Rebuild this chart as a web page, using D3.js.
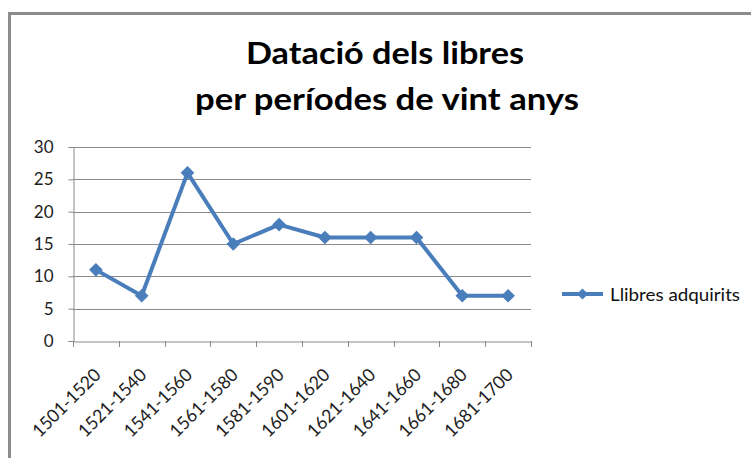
<!DOCTYPE html>
<html><head><meta charset="utf-8">
<script src="https://cdn.jsdelivr.net/npm/d3@7"></script>
<style>html,body{margin:0;padding:0;background:#fff;}svg{display:block;font-family:Lato,"Open Sans",sans-serif;}</style>
</head><body>
<svg id="c" width="751" height="458"></svg>
<script>
const categories = ["1501-1520","1521-1540","1541-1560","1561-1580","1581-1590","1601-1620","1621-1640","1641-1660","1661-1680","1681-1700"];
const values = [11, 7, 26, 15, 18, 16, 16, 16, 7, 7];
const yTicks = [0, 5, 10, 15, 20, 25, 30];
const seriesName = "Llibres adquirits";
const titleLines = ["Datació dels libres", "per períodes de vint anys"];

const svg = d3.select("#c");
const color = "#4a7ebb";
// outer frame
svg.append("rect").attr("x", 9.5).attr("y", 13.5).attr("width", 800).attr("height", 500)
  .attr("fill", "none").attr("stroke", "#8c8c8c").attr("stroke-width", 3);

const m = {left: 73, right: 531, top: 147, bottom: 341};
const x = d3.scaleBand().domain(categories).range([m.left, m.right]);
const y = d3.scaleLinear().domain([0, 30]).range([m.bottom, m.top]);

// title
const titleW = [278, 384];
svg.append("g").selectAll("text").data(titleLines).join("text")
  .attr("x", (d, i) => i ? 387 : 385).attr("y", (d, i) => 64 + i * 46)
  .attr("text-anchor", "middle").attr("font-family", "Lato, 'Open Sans', sans-serif")
  .attr("font-size", 31).attr("font-weight", 700).attr("fill", "#000")
  .attr("textLength", (d, i) => titleW[i]).attr("lengthAdjust", "spacingAndGlyphs")
  .text(d => d);

// gridlines
svg.append("g").selectAll("line").data(yTicks.filter(t => t > 0)).join("line")
  .attr("x1", m.left).attr("x2", m.right).attr("y1", d => Math.round(y(d)) + 0.5).attr("y2", d => Math.round(y(d)) + 0.5)
  .attr("stroke", "#8a8a8a").attr("stroke-width", 1);

// y axis
const yAxis = svg.append("g").attr("transform", `translate(${m.left + 0.5},0)`)
  .call(d3.axisLeft(y).tickValues(yTicks).tickSize(5).tickPadding(15));
yAxis.select(".domain").attr("stroke", "#8a8a8a");
yAxis.selectAll(".tick line").attr("stroke", "#8a8a8a");
yAxis.selectAll(".tick text").attr("font-size", 17).attr("fill", "#222").attr("font-family", "Lato, sans-serif");

// x axis
const xAxis = svg.append("g").attr("transform", `translate(0,${m.bottom + 0.5})`)
  .call(d3.axisBottom(x).tickSize(0).tickFormat(""));
xAxis.select(".domain").attr("stroke", "#8a8a8a");
// tick marks at band boundaries
const bounds = categories.map(c => x(c)).concat([m.right]);
svg.append("g").selectAll("line").data(bounds).join("line")
  .attr("x1", d => Math.round(d) + 0.5).attr("x2", d => Math.round(d) + 0.5)
  .attr("y1", m.bottom).attr("y2", m.bottom + 6).attr("stroke", "#8a8a8a");
// labels
svg.append("g").selectAll("text").data(categories).join("text")
  .attr("transform", d => `translate(${x(d) + x.bandwidth() / 2 + 6},${m.bottom + 35}) rotate(-45)`)
  .attr("text-anchor", "end").attr("font-size", 18).attr("fill", "#222")
  .attr("textLength", 88).attr("lengthAdjust", "spacingAndGlyphs")
  .text(d => d);

// line
const cx = d => x(d) + x.bandwidth() / 2;
svg.append("path").datum(values.map((v, i) => [cx(categories[i]), y(v)]))
  .attr("d", d3.line()).attr("fill", "none").attr("stroke", color).attr("stroke-width", 4)
  .attr("stroke-linejoin", "round");
const diamond = d3.symbol().type(d3.symbolDiamond2).size(85);
svg.append("g").selectAll("path").data(values).join("path")
  .attr("transform", (d, i) => `translate(${cx(categories[i])},${y(d)})`)
  .attr("d", diamond).attr("fill", color).attr("stroke", color).attr("stroke-width", 1.5);

// legend
const lg = svg.append("g").attr("transform", "translate(562,294)");
lg.append("line").attr("x1", 0).attr("x2", 41).attr("stroke", color).attr("stroke-width", 4);
lg.append("path").attr("transform", "translate(20.5,0)").attr("d", d3.symbol().type(d3.symbolDiamond2).size(80)).attr("fill", color);
lg.append("text").attr("x", 48).attr("y", 7).attr("font-size", 18).attr("fill", "#111")
  .attr("textLength", 130).attr("lengthAdjust", "spacingAndGlyphs").text(seriesName);
</script>
</body></html>
